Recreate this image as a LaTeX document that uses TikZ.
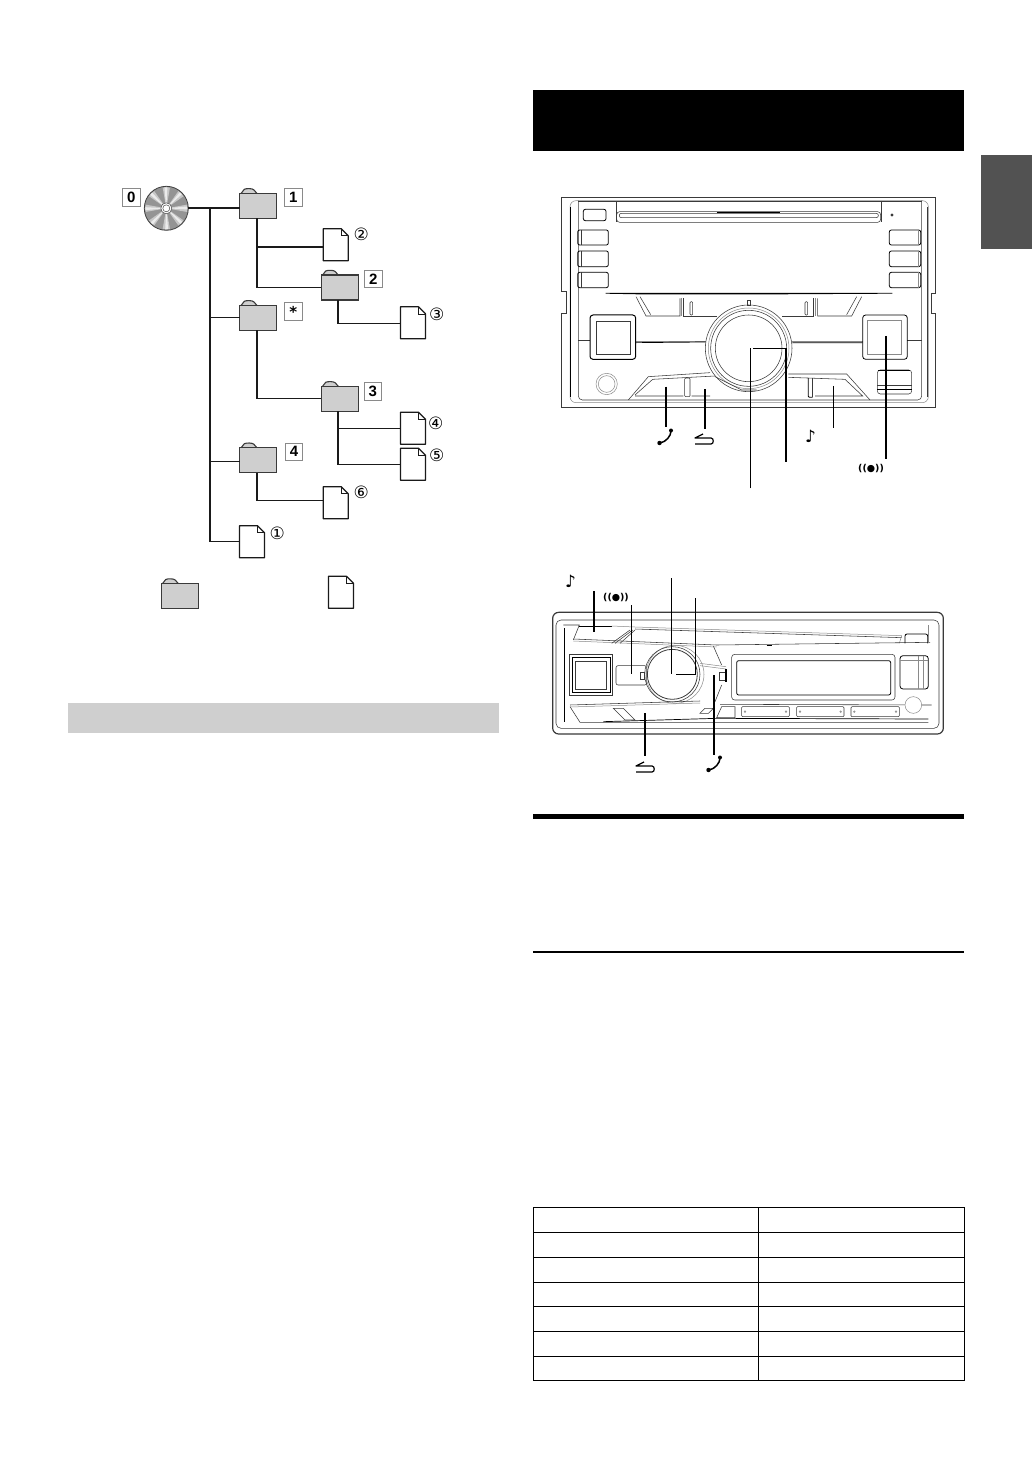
\documentclass[tikz,border=0pt]{standalone}
\usepackage{fontspec}
\setmainfont{Liberation Sans}
\newfontfamily\dejavu{DejaVu Sans}
\definecolor{fgray}{HTML}{CFCFCF}
\definecolor{linek}{HTML}{1A1A1A}
\definecolor{devk}{HTML}{3A3A3A}
\definecolor{devg}{HTML}{8A8A8A}
\tikzset{
  conn/.style={draw=linek,line width=1.2pt},
  folderbox/.style={rectangle,draw=devk,line width=1.3pt,fill=fgray,minimum width=37pt,minimum height=25pt,inner sep=0,outer sep=0},
  docbox/.style={rectangle,minimum width=25pt,minimum height=32pt,inner sep=0,outer sep=0},
  docline/.style={draw=linek,line width=1.2pt,fill=white,line join=round},
  numbox/.style={rectangle,draw=devg,line width=.6pt,fill=white,minimum size=17.5pt,inner sep=0,font=\bfseries\fontsize{15}{15}\selectfont},
  circnum/.style={inner sep=0,font=\dejavu\fontsize{17}{17}\selectfont},
  dev/.style={draw=devk,line width=.55pt},
  devl/.style={draw=devg,line width=.5pt},
  devb/.style={draw=black,line width=1pt},
  lead/.style={draw=black,line width=1.2pt},
  tabline/.style={draw=black,line width=.7pt}
}
\newcommand{\folderat}[3]{%
  \draw[draw=devk,line width=1.1pt,fill=fgray,line join=round] (#2-17.5,#3-12) -- (#2-14,#3-16.5) .. controls (#2-12,#3-17.5) and (#2-6,#3-17.5) .. (#2-4.5,#3-16) -- (#2-1,#3-12);
  \node[folderbox] (#1) at (#2,#3) {};}
\newcommand{\docat}[3]{%
  \node[docbox] (#1) at (#2,#3) {};
  \draw[docline] (#1.north west) -- ([xshift=-7pt]#1.north east) -- ([yshift=-7pt]#1.north east) -- (#1.south east) -- (#1.south west) -- cycle;
  \draw[draw=linek,line width=.6pt] ([xshift=-7pt]#1.north east) -- ([xshift=-7pt,yshift=-7pt]#1.north east) -- ([yshift=-7pt]#1.north east);}
\newcommand{\phoneicon}[2]{%
  \begin{scope}[shift={(#1,#2)}]
  \draw[black,line width=1.5pt] (6,-6) .. controls (6,-1) and (1,5) .. (-5,6);
  \fill[black] (6,-6.5) circle (2pt);
  \fill[black] (-5.5,6) circle (2.2pt);
  \end{scope}}
\newcommand{\returnicon}[2]{%
  \begin{scope}[shift={(#1,#2)}]
  \draw[black,line width=1.2pt,line join=round] (-9,6) -- (7,6) .. controls (10,6) and (10,0) .. (7,0) -- (-9,0) -- (-1,-4);
  \end{scope}}
\begin{document}
\begin{tikzpicture}[x=1pt,y=-1pt]
\useasboundingbox (0,0) rectangle (1032,1458);
\fill[white] (0,0) rectangle (1032,1458);
% page furniture
\fill[black] (533,90) rectangle (964,151);
\fill[black!68] (981,155) rectangle (1032,249);
\fill[fgray] (68,703) rectangle (499,733);
\fill[black] (533,814) rectangle (964,819);
\fill[black] (533,951.2) rectangle (964,952.8);
% table
\draw[tabline] (533,1207) rectangle (964,1380);
\draw[tabline] (758,1207) -- (758,1380);
\foreach \yy in {1232,1257,1282,1306,1331,1356} \draw[tabline] (533,\yy) -- (964,\yy);
% --- tree ---
\node[circle,minimum size=44pt,inner sep=0,outer sep=0] (d0) at (166.3,208.3) {};
\fill[black!42] (d0.center) circle (22pt);
\foreach \a in {0,45,...,315} {
  \fill[black!22] (166.3,208.3) -- ++(\a-10:21pt) arc[start angle=\a-10,end angle=\a+10,radius=21pt] -- cycle;
  \fill[black!8] (166.3,208.3) -- ++(\a-3:21pt) arc[start angle=\a-3,end angle=\a+5,radius=21pt] -- cycle;
}
\draw[black!75,line width=.8pt] (d0.center) circle (22pt);
\fill[white,draw=black!70,line width=.5pt] (d0.center) circle (5.5pt);
\draw[black!70,line width=.5pt] (d0.center) circle (3.5pt);
\coordinate (trunktop) at (210,208);
\folderat{f1}{258.3}{205.8}
\folderat{f2}{339.7}{287.5}
\folderat{fs}{258.3}{317.8}
\folderat{f3}{339.7}{398.8}
\folderat{f4}{258.3}{460.2}
\docat{doc1}{252}{541.7}
\docat{doc2}{335.7}{244.7}
\docat{doc3}{413}{322.8}
\docat{doc4}{413}{428.2}
\docat{doc5}{413}{464.2}
\docat{doc6}{335.7}{502.7}
\folderat{lf}{179.7}{596}
\docat{ld}{341}{592.3}
% connectors
\draw[conn] (d0.east |- trunktop) -- (f1.west |- trunktop);
\draw[conn] (trunktop) |- (doc1.west);
\draw[conn] (trunktop |- fs.west) -- (fs.west);
\draw[conn] ([yshift=-1pt]trunktop |- f4.west) -- ([yshift=-1pt]f4.west);
\draw[conn] (257,218.3) |- ([yshift=-2.3pt]doc2.west);
\draw[conn] (257,218.3) |- (f2.west);
\draw[conn] (338,300) |- ([yshift=-1pt]doc3.west);
\draw[conn] (257,330.3) |- (f3.west);
\draw[conn] (338,411.3) |- (doc4.west);
\draw[conn] (338,411.3) |- (doc5.west);
\draw[conn] (257,472.7) |- ([yshift=2pt]doc6.west);
% labels
\node[numbox] (n0) at (131.3,197.3) {0};
\node[numbox] (n1) at (293.3,197.3) {1};
\node[numbox] (n2) at (373.3,279) {2};
\node[numbox] (ns) at (293.3,311.3) {};
\node[inner sep=0,font=\dejavu\bfseries\fontsize{15}{15}\selectfont] (nstar) at (293.3,311.8) {*};
\node[numbox] (n3) at (372.7,391.3) {3};
\node[numbox] (n4) at (294,451.7) {4};
\node[circnum] (c1) at (277.3,533.3) {①};
\node[circnum] (c2) at (361.3,234) {②};
\node[circnum] (c3) at (436.7,314) {③};
\node[circnum] (c4) at (435.7,423.3) {④};
\node[circnum] (c5) at (436.7,455.3) {⑤};
\node[circnum] (c6) at (361.3,492) {⑥};
% --- device 1 ---
\begin{scope}[shift={(540,180)},x=.33333pt,y=-.33333pt]
\draw[dev] (65,52) -- (1185,52) -- (1185,340) -- (1173,340) -- (1173,400) -- (1185,400) -- (1185,682) -- (65,682) -- (65,400) -- (78,400) -- (78,335) -- (65,335) -- cycle;
\draw[devl,rounded corners=6pt] (90,62) rectangle (1165,668);
\draw[dev,rounded corners=4pt] (115,62) -- (115,660) -- (1145,660) -- (1145,62);
\draw[devb] (92,80) -- (92,650);
\draw[dev] (1162,80) -- (1162,650);
\draw[dev] (115,65) -- (1145,65);
\draw[dev] (230,65) -- (230,125) (1025,65) -- (1025,125);
\draw[dev,rounded corners=3pt] (230,95) rectangle (1022,127);
\draw[dev,rounded corners=2pt] (238,100) rectangle (1015,113);
\draw[devb,line width=.7pt] (530,96) -- (720,96);
\draw[devb,rounded corners=2pt,line width=.8pt] (130,88) rectangle (198,122);
\foreach \ya/\yb in {150/195,213/260,277/323} {
  \draw[devb,rounded corners=2pt,line width=.8pt] (113,\ya) rectangle (205,\yb);
  \draw[dev] (125,\ya) -- (125,\yb);
  \draw[devb,rounded corners=2pt,line width=.8pt] (1048,\ya) rectangle (1142,\yb);
  \draw[devl] (1136,\ya) -- (1136,\yb);
}
\fill[devk] (1056,105) circle (1.6pt);
\fill[black] (197,339) -- (1057,339) -- (1057,341) -- (700,343) -- (300,343) -- (197,341) -- cycle;
\draw[dev] (288,350) -- (318,408) -- (420,408) -- (420,355);
\draw[dev] (300,350) -- (332,404);
\draw[dev] (430,355) -- (430,408) -- (530,408);
\draw[devl] (425,355) -- (425,408);
\draw[dev] (965,350) -- (935,408) -- (833,408) -- (833,355);
\draw[dev] (950,350) -- (920,404);
\draw[dev] (820,355) -- (820,408) -- (725,408);
\draw[devl] (827,355) -- (827,408);
\draw[dev,rounded corners=1pt] (450,365) rectangle (458,405);
\draw[dev,rounded corners=1pt] (795,365) rectangle (803,405);
\draw[dev] (621,360) rectangle (632,376);
\draw[devl] (285,483) -- (497,483) (757,483) -- (968,483);
\draw[devb,line width=.7pt] (285,488) -- (497,486) (757,488) -- (968,488);
\draw[dev] (115,480) -- (150,480) (1102,480) -- (1145,480);
\draw[dev] (626,505) circle (130);
\draw[devl] (626,505) circle (121);
\draw[dev] (626,505) circle (114);
\draw[dev] (626,505) circle (100);
\draw[devb,rounded corners=3pt] (150,405) rectangle (287,538);
\draw[dev,line width=.8pt] (170,423) rectangle (272,523);
\draw[devb,rounded corners=3pt,line width=.8pt] (968,405) rectangle (1102,538);
\draw[devl] (983,420) rectangle (1085,523);
\draw[devl] (200,612) circle (32);
\draw[devl] (200,612) circle (25);
\draw[dev] (265,660) -- (325,590) -- (510,578);
\draw[dev] (285,645) -- (338,598) -- (525,588) (285,648) -- (430,648);
\draw[dev] (455,648) -- (510,648) (525,590) -- (605,630) -- (650,630);
\draw[dev,rounded corners=1pt] (434,594) rectangle (450,650);
\draw[dev] (745,582) -- (920,582) -- (990,660);
\draw[dev] (745,592) -- (915,598) -- (968,648) -- (825,648);
\draw[devb,rounded corners=1pt,line width=.8pt] (805,594) -- (805,652) -- (818,652);
\draw[dev] (818,594) -- (818,652);
\draw[dev,rounded corners=3pt] (1012,570) rectangle (1115,642);
\draw[dev] (1012,616) -- (1115,616);
\draw[devb] (1012,628) -- (1115,628);
\draw[devb,line width=.7pt] (1015,572) -- (1110,572);
\draw[lead] (378,620) -- (378,742);
\draw[lead] (495,628) -- (495,748);
\draw[lead] (631,925) -- (631,505);
\draw[lead] (640,505) -- (738,505) -- (738,845);
\draw[lead] (880,618) -- (880,745);
\draw[lead] (1038,468) -- (1038,838);
\end{scope}
\phoneicon{665}{437}
\returnicon{704}{438}
\node[inner sep=0,font=\dejavu\fontsize{17}{17}\selectfont] (note1) at (810.5,436) {♪};
\node[inner sep=0,font=\dejavu\bfseries\fontsize{9.5}{10}\selectfont] (radio1) at (871,469) {((●))};
% --- device 2 ---
\begin{scope}[shift={(540,565)},x=.33333pt,y=-.33333pt]
\draw[draw=devk,line width=1.2pt,rounded corners=6pt] (38,142) rectangle (1210,507);
\draw[dev,rounded corners=5pt] (48,165) rectangle (1197,490);
\draw[devb] (72,190) -- (72,470);
\draw[dev] (70,180) -- (118,180) -- (100,225);
\draw[devb,line width=.8pt] (118,183) -- (215,183);
\draw[devl] (215,183) -- (285,186) -- (1085,212) -- (1078,235);
\draw[dev] (285,192) -- (1085,218);
\draw[dev] (100,222) -- (530,240) -- (1170,232);
\draw[devl] (100,228) -- (530,246);
\draw[dev] (215,235) -- (270,195) (240,235) -- (285,195) (225,235) -- (278,195);
\draw[devb,line width=.8pt,rounded corners=2pt] (1095,235) -- (1095,207) -- (1163,207) -- (1163,235);
\draw[devl] (1165,180) -- (1165,235);
\draw[dev] (88,267) rectangle (218,390);
\draw[devb] (97,277) rectangle (210,382);
\draw[dev] (107,288) rectangle (200,373);
\draw[dev,rounded corners=2pt] (228,302) rectangle (320,360);
\draw[dev] (300,322) rectangle (312,342);
\draw[devl] (405,328) circle (87);
\draw[dev] (397,328) circle (83);
\draw[dev,line width=.8pt] (397,328) circle (75);
\draw[dev] (520,243) -- (545,300);
\draw[dev] (525,410) -- (545,360);
\draw[devl] (480,295) -- (558,305) (480,302) -- (558,312);
\draw[dev] (537,322) rectangle (555,345);
\draw[devb,line width=1.2pt] (558,312) -- (558,350);
\draw[dev,rounded corners=3pt] (575,268) rectangle (1065,405);
\draw[devb,line width=.8pt,rounded corners=2pt] (590,287) rectangle (1052,390);
\draw[devb,line width=.8pt,rounded corners=3pt] (1080,272) rectangle (1165,372);
\draw[devl] (1080,285) -- (1165,285) (1135,272) -- (1135,372) (1150,272) -- (1150,372);
\draw[dev] (90,420) -- (480,408) (540,418) -- (1175,420);
\draw[devl] (90,426) -- (480,414);
\draw[dev] (90,425) -- (120,472) -- (1165,472);
\draw[devb,line width=.7pt] (190,470) -- (530,460) -- (1165,462);
\draw[dev] (220,430) -- (250,430) -- (285,465) -- (255,465) -- cycle;
\draw[dev] (480,445) -- (495,430) -- (520,430) -- (505,445) -- cycle;
\draw[dev] (530,458) -- (545,425) -- (585,425) -- (585,458) -- cycle;
\foreach \xa/\xb in {605/748,770/912,933/1078} {
  \draw[dev,rounded corners=1pt] (\xa,425) rectangle (\xb,455);
  \draw[devl] (\xa+10,440) circle (2.5) (\xb-10,440) circle (2.5);
}
\draw[devl,fill=white] (1120,420) circle (25);
\draw[devb,line width=.6pt] (680,240) -- (695,240);
\draw[lead] (162,78) -- (162,200);
\draw[lead] (275,120) -- (275,328);
\draw[lead] (395,40) -- (395,328);
\draw[lead] (467,100) -- (467,328) -- (408,328);
\draw[lead] (315,445) -- (315,572);
\draw[lead] (522,330) -- (522,570);
\end{scope}
\node[inner sep=0,font=\dejavu\fontsize{17}{17}\selectfont] (note2) at (570.5,581) {♪};
\node[inner sep=0,font=\dejavu\bfseries\fontsize{9.5}{10}\selectfont] (radio2) at (616,597.5) {((●))};
\returnicon{645}{766}
\phoneicon{714}{764}
\end{tikzpicture}
\end{document}
